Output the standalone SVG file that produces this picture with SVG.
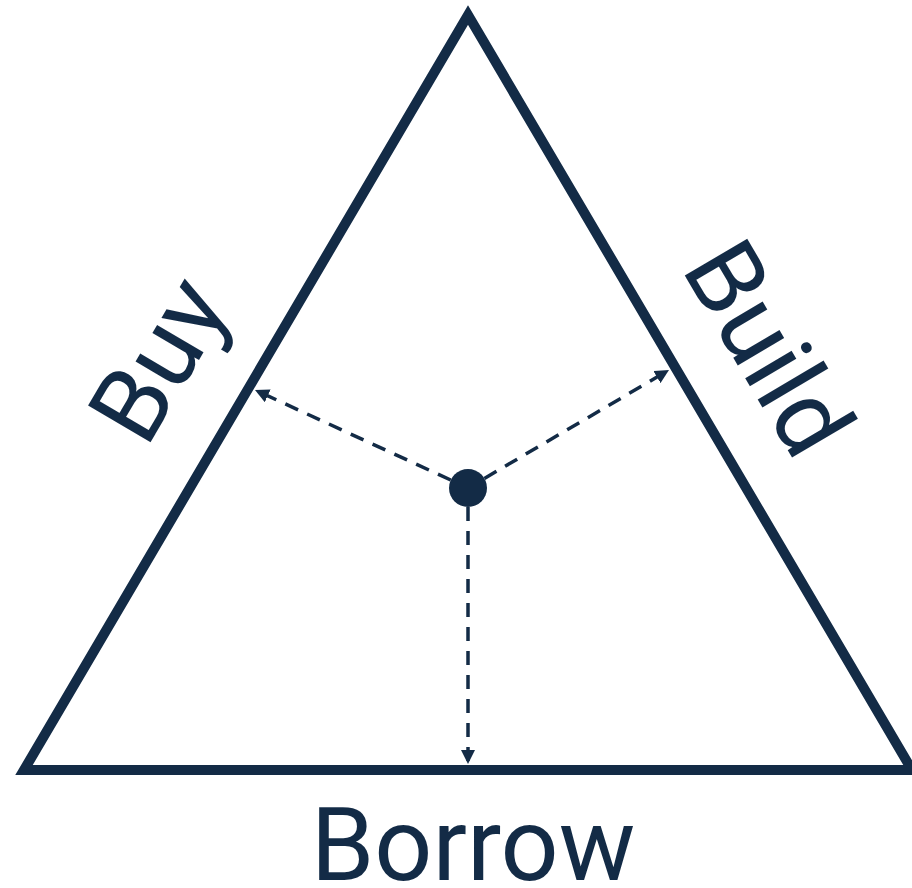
<svg xmlns="http://www.w3.org/2000/svg" width="912" height="888" viewBox="0 0 912 888">
<style>
.edge{fill:none;stroke:#132b46;stroke-width:10;stroke-linejoin:miter;stroke-miterlimit:10}
.conn{fill:none;stroke:#132b46;stroke-width:3.5;stroke-dasharray:14 10}
.lbl{font-family:Roboto,"Liberation Sans",Arial,sans-serif;font-size:102px;fill:#132b46;text-anchor:middle}
</style>
<defs>
<marker id="ah" viewBox="0 0 14 14" refX="14" refY="7" markerWidth="14" markerHeight="14" markerUnits="userSpaceOnUse" orient="auto">
<path d="M0,0 L14,7 L0,14 z" fill="#132b46"/>
</marker>
</defs>
<g id="triangle">
<polygon class="edge" points="468,15 912,770 24,770"/>
</g>
<g id="connectors">
<line class="conn" x1="450.7" y1="480" x2="255" y2="390" marker-end="url(#ah)"/>
<line class="conn" x1="484.4" y1="478.4" x2="669" y2="370" marker-end="url(#ah)"/>
<line class="conn" x1="468" y1="507" x2="468" y2="764" marker-end="url(#ah)"/>
</g>
<g id="center">
<circle cx="468" cy="488" r="19" fill="#132b46"/>
</g>
<g id="label-buy">
<text class="lbl" transform="translate(189,377) rotate(-59.5)">Buy</text>
</g>
<g id="label-build">
<text class="lbl" transform="translate(738,366) rotate(59.5)">Build</text>
</g>
<g id="label-borrow">
<text class="lbl" x="473" y="880">Borrow</text>
</g>
</svg>
